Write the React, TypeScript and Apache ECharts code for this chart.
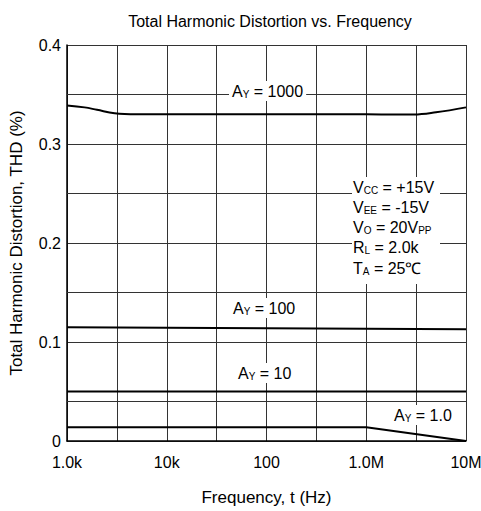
import React, { useEffect, useRef } from "react";
import * as echarts from "echarts";

const FONT = "'Liberation Sans', Arial, sans-serif";

// Frequencies (Hz) and THD (%) per closed-loop gain
const freq1000 = [1e3, 1.5e3, 2e3, 3e3, 5e3, 1e4, 1e5, 1e6, 2e6, 3e6, 5e6, 1e7];
const thd1000 = [0.339, 0.337, 0.3345, 0.331, 0.330, 0.330, 0.330, 0.330, 0.3298, 0.3298, 0.332, 0.337];

const freq100 = [1e3, 1e7];
const thd100 = [0.115, 0.113];

const freq10 = [1e3, 1e7];
const thd10 = [0.05, 0.05];

const freq1 = [1e3, 1e6, 1e7];
const thd1 = [0.014, 0.014, 0.0];

// Tick labels (x at decades 1e3..1e7, as printed in the original)
const xTickExps = [3, 4, 5, 6, 7];
const xTickLabels = ["1.0k", "10k", "100", "1.0M", "10M"];
const yTickValues = [0, 0.1, 0.2, 0.3, 0.4];
const yTickLabels = ["0", "0.1", "0.2", "0.3", "0.4"];

// Extra horizontal grid lines
const extraGrid = [0.35, 0.25, 0.15, 0.04];

const toPts = (f: number[], v: number[]) => f.map((x, i) => [Math.log10(x), v[i]]);

const rich = {
  m: { fontSize: 16, fontFamily: FONT, lineHeight: 16, fill: "#000" },
  s: { fontSize: 10, fontFamily: FONT, lineHeight: 8, verticalAlign: "bottom", fill: "#000" },
};

function label(x: number, y: number, text: string, bg = true) {
  return {
    type: "text",
    x,
    y,
    z: 100,
    style: {
      text,
      rich,
      fill: "#000",
      textAlign: "left",
      textVerticalAlign: "middle",
      backgroundColor: bg ? "#fff" : undefined,
      padding: bg ? [2, 3, 2, 3] : 0,
    },
  };
}

export default function App() {
  const ref = useRef<HTMLDivElement>(null);
  useEffect(() => {
    if (!ref.current) return;
    const chart = echarts.init(ref.current, null, { renderer: "svg" });
    const lineStyle = { color: "#000", width: 2 };
    const mkSeries = (name: string, data: number[][], extra: any = {}) => ({
      type: "line",
      name,
      data,
      showSymbol: false,
      symbol: "none",
      lineStyle,
      z: 5,
      ...extra,
    });
    chart.setOption({
      animation: false,
      backgroundColor: "#fff",
      title: {
        text: "Total Harmonic Distortion vs. Frequency",
        left: 265,
        top: 8,
        textAlign: "center",
        textStyle: { fontFamily: FONT, fontSize: 16, fontWeight: "normal", color: "#000" },
      },
      grid: { left: 67, right: 15, top: 45, bottom: 70, containLabel: false, outerBoundsMode: "none" },
      xAxis: {
        type: "value",
        min: 3,
        max: 7,
        interval: 0.5,
        name: "Frequency, t (Hz)",
        nameLocation: "middle",
        nameGap: 48,
        nameTextStyle: { fontFamily: FONT, fontSize: 17, color: "#000" },
        axisLine: { show: true, onZero: false, lineStyle: { color: "#000", width: 1.5 } },
        axisTick: { show: false },
        axisLabel: {
          fontFamily: FONT,
          fontSize: 16,
          color: "#000",
          margin: 13,
          showMaxLabel: true,
          showMinLabel: true,
          hideOverlap: false,
          formatter: (v: number) => {
            const i = xTickExps.indexOf(Math.round(v * 10) / 10);
            return i >= 0 ? xTickLabels[i] : "";
          },
        },
        splitLine: { show: true, lineStyle: { color: "#333", width: 1 } },
      },
      yAxis: {
        type: "value",
        min: 0,
        max: 0.4,
        interval: 0.1,
        name: "Total Harmonic Distortion, THD (%)",
        nameLocation: "middle",
        nameGap: 42,
        nameTextStyle: { fontFamily: FONT, fontSize: 17, color: "#000" },
        axisLine: { show: true, lineStyle: { color: "#000", width: 1.5 } },
        axisTick: { show: false },
        axisLabel: {
          fontFamily: FONT,
          fontSize: 16,
          color: "#000",
          margin: 6,
          formatter: (v: number) => {
            const i = yTickValues.findIndex((t) => Math.abs(t - v) < 1e-9);
            return i >= 0 ? yTickLabels[i] : "";
          },
        },
        splitLine: { show: true, lineStyle: { color: "#333", width: 1 } },
      },
      series: [
        mkSeries("AY=1000", toPts(freq1000, thd1000), { smooth: 0.4 }),
        mkSeries("AY=100", toPts(freq100, thd100)),
        mkSeries("AY=10", toPts(freq10, thd10), {
          markLine: {
            silent: true,
            symbol: ["none", "none"],
            label: { show: false },
            lineStyle: { color: "#333", width: 1, type: "solid" },
            z: 1,
            data: extraGrid.map((v) => ({ yAxis: v })),
          },
        }),
        mkSeries("AY=1.0", toPts(freq1, thd1)),
      ],
      graphic: [
        label(229, 91, "{m|A}{s|Y}{m| = 1000}"),
        label(230, 308, "{m|A}{s|Y}{m| = 100}"),
        label(235, 373, "{m|A}{s|Y}{m| = 10}"),
        label(391, 415, "{m|A}{s|Y}{m| = 1.0}"),
        { type: "rect", z: 99, shape: { x: 352, y: 177, width: 88, height: 107 }, style: { fill: "#fff" } },
        label(353, 187, "{m|V}{s|CC}{m| = +15V}", false),
        label(353, 207, "{m|V}{s|EE}{m| = -15V}", false),
        label(353, 227, "{m|V}{s|O}{m| = 20V}{s|PP}", false),
        label(353, 247, "{m|R}{s|L}{m| = 2.0k}", false),
        label(353, 268, "{m|T}{s|A}{m| = 25℃}", false),
      ],
    });
    return () => chart.dispose();
  }, []);
  return (
    <div
      ref={ref}
      style={{ position: "fixed", left: 0, top: 0, width: 481, height: 511, background: "#fff" }}
    />
  );
}
